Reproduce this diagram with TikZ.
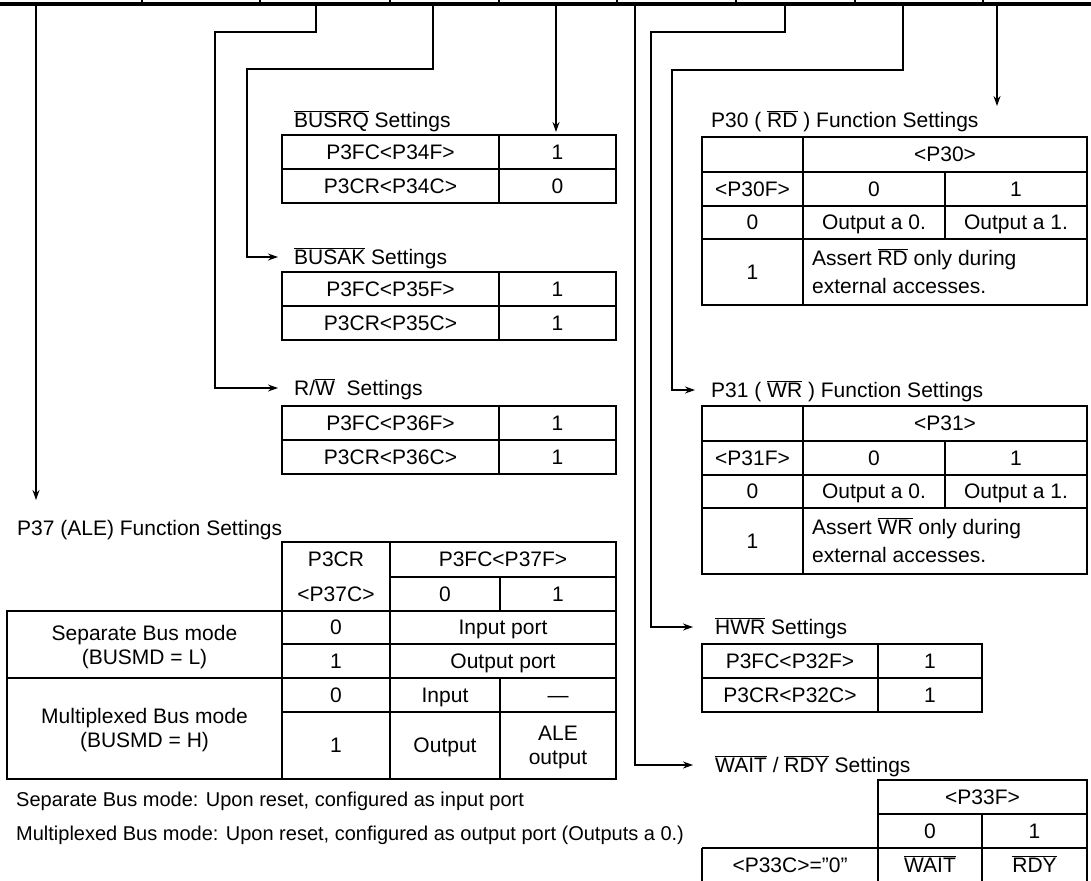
\documentclass[tikz,border=0pt]{standalone}
\usepackage{fontspec}
\setmainfont{Liberation Sans}
\usetikzlibrary{arrows.meta}
\newcommand\ovl[1]{$\overline{\hbox{#1}}$}
\tikzset{
  tab/.style={line width=2.2pt},
  wire/.style={line width=1.4pt},
  arr/.style={wire,-{Stealth[length=10pt,width=7pt]}},
  cell/.style={inner sep=0pt,text height=14.5pt,text depth=0pt,font=\fontsize{21}{25}\selectfont},
  ttl/.style={cell,anchor=west},
  note/.style={ttl,font=\fontsize{20}{24}\selectfont},
}
\begin{document}
\begin{tikzpicture}[x=1pt,y=-1pt]
  \useasboundingbox (0,0) rectangle (1091,880);
  \clip (0,0) rectangle (1091,880);
  \fill[white] (0,0) rectangle (1091,880);

  % bit row of the register
  \draw[line width=4.5pt] (0,4) -- (1091,4);
  \foreach \x in {142,260,390,499,617,736,855,983}
    \draw[wire] (\x,-3) -- (\x,4);
  \coordinate (b7) at (36,6);
  \coordinate (b6) at (316,6);
  \coordinate (b5) at (433,6);
  \coordinate (b4) at (556,6);
  \coordinate (b3) at (635,6);
  \coordinate (b2) at (785,6);
  \coordinate (b1) at (903,6);
  \coordinate (b0) at (997,6);

  % titles
  \node[ttl] (t7) at (17,528) {P37 (ALE) Function Settings};
  \node[ttl] (t6) at (294,388) {R/\ovl{W}\ \ Settings};
  \node[ttl] (t5) at (294,257) {\ovl{BUSAK} Settings};
  \node[ttl] (t4) at (294,120) {\ovl{BUSRQ} Settings};
  \node[ttl] (t3) at (715,765) {\ovl{WAIT} / \ovl{RDY} Settings};
  \node[ttl] (t2) at (715,627) {\ovl{HWR} Settings};
  \node[ttl] (t1) at (711,390) {P31 ( \ovl{WR} ) Function Settings};
  \node[ttl] (t0) at (711,120) {P30 ( \ovl{RD} ) Function Settings};

  % connectors
  \coordinate (e7) at (36,500);
  \coordinate (e4) at (556,132);
  \coordinate (e0) at (997,106);
  \draw[arr] (b7) -- (e7);
  \draw[arr] (b6) |- (215,32) |- ([xshift=-16pt]t6.west);
  \draw[arr] (b5) |- (247,69) |- ([xshift=-16pt]t5.west);
  \draw[arr] (b4) -- (e4);
  \draw[arr] (b3) |- ([xshift=-22pt]t3.west);
  \draw[arr] (b2) |- (651,32) |- ([xshift=-22pt]t2.west);
  \draw[arr] (b1) |- (672,70) |- ([xshift=-16pt]t1.west);
  \draw[arr] (b0) -- (e0);

  % two-row tables
  \foreach \xa/\xb/\xc/\y/\n/\v in {282/499/616/135/4/0,282/499/616/272/5/1,
                                    282/499/616/406/6/1,702/878/982/644/2/1} {
    \draw[tab] (\xa,\y) rectangle (\xc,\y+68) (\xa,\y+34) -- (\xc,\y+34)
      (\xb,\y) -- (\xb,\y+68);
    \node[cell] (f\n) at ({(\xa+\xb)/2},\y+17) {P3FC<P3\n F>};
    \node[cell] (fv\n) at ({(\xb+\xc)/2},\y+17) {1};
    \node[cell] (c\n) at ({(\xa+\xb)/2},\y+51) {P3CR<P3\n C>};
    \node[cell] (cv\n) at ({(\xb+\xc)/2},\y+51) {\v};
  }

  % P30 and P31 tables
  \foreach \n/\y/\s in {0/137/RD,1/406/WR} {
    \draw[tab] (702,\y) rectangle (1087,\y+168);
    \draw[tab] (803,\y) -- (803,\y+168) (702,\y+35) -- (1087,\y+35)
      (702,\y+69) -- (1087,\y+69) (702,\y+102) -- (1087,\y+102)
      (945,\y+35) -- (945,\y+102);
    \node[cell] (h\n) at (945,\y+17.5) {<P3\n>};
    \node[cell] (g\n) at (752.5,\y+52) {<P3\n F>};
    \node[cell] (ga\n) at (874,\y+52) {0};
    \node[cell] (gb\n) at (1016,\y+52) {1};
    \node[cell] (k\n) at (752.5,\y+85.5) {0};
    \node[cell] (ka\n) at (874,\y+85.5) {Output a 0.};
    \node[cell] (kb\n) at (1016,\y+85.5) {Output a 1.};
    \node[cell] (m\n) at (752.5,\y+135) {1};
    \node[ttl] (ma\n) at (812,\y+121) {Assert \ovl{\s} only during};
    \node[ttl] (mb\n) at (812,\y+149) {external accesses.};
  }

  % WAIT/RDY table
  \draw[tab] (878,780) rectangle (1087,892) (878,814) -- (1087,814)
    (702,848) -- (1087,848) (702,848) -- (702,892) (982,814) -- (982,892);
  \node[cell] (w1) at (982.5,797) {<P33F>};
  \node[cell] (w2) at (930,831) {0};
  \node[cell] (w3) at (1034.5,831) {1};
  \node[cell] (w4) at (790,865) {<P33C>=”0”};
  \node[cell] (w5) at (930,865) {\ovl{WAIT}};
  \node[cell] (w6) at (1034.5,865) {\ovl{RDY}};

  % P37 table
  \draw[tab] (282,542) rectangle (616,779) (7,611) rectangle (616,779);
  \draw[tab] (390,542) -- (390,779) (390,577) -- (616,577) (500,577) -- (500,611)
    (282,644) -- (616,644) (7,678) -- (616,678) (282,712) -- (616,712)
    (500,678) -- (500,779);
  \node[cell] (a1) at (336,559.5) {P3CR};
  \node[cell] (a2) at (336,594) {<P37C>};
  \node[cell] (a3) at (503,559.5) {P3FC<P37F>};
  \node[cell] (a4) at (445,594) {0};
  \node[cell] (a5) at (558,594) {1};
  \node[cell] (s1) at (144.5,633) {Separate Bus mode};
  \node[cell] (s2) at (144.5,657) {(BUSMD = L)};
  \node[cell] (s3) at (336,627.5) {0};
  \node[cell] (s4) at (503,627.5) {Input port};
  \node[cell] (s5) at (336,661) {1};
  \node[cell] (s6) at (503,661) {Output port};
  \node[cell] (x1) at (144.5,716.5) {Multiplexed Bus mode};
  \node[cell] (x2) at (144.5,740.5) {(BUSMD = H)};
  \node[cell] (x3) at (336,695) {0};
  \node[cell] (x4) at (445,695) {Input};
  \node[cell] (x5) at (558,695) {—};
  \node[cell] (x6) at (336,745.5) {1};
  \node[cell] (x7) at (445,745.5) {Output};
  \node[cell] (x8) at (558,733.5) {ALE};
  \node[cell] (x9) at (558,757.5) {output};

  % notes
  \node[note] (n1) at (16,799) {Separate Bus mode: Upon reset, configured as input port};
  \node[note] (n2) at (16,833) {Multiplexed Bus mode: Upon reset, configured as output port (Outputs a 0.)};
\end{tikzpicture}
\end{document}
